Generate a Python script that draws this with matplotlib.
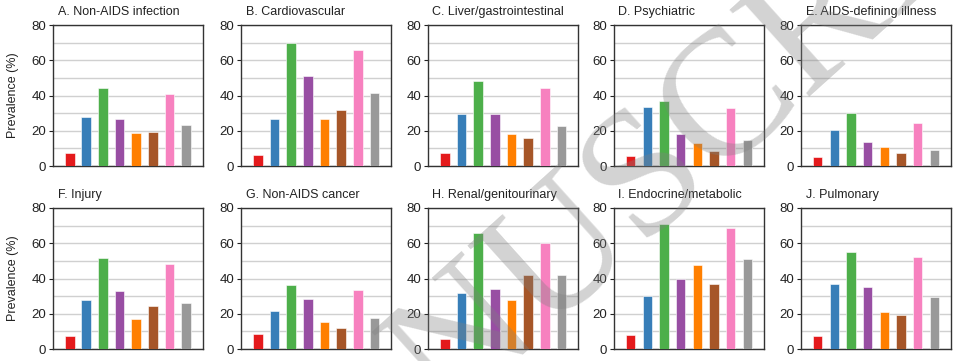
import numpy as np
import matplotlib
matplotlib.use("Agg")
import matplotlib.pyplot as plt

plt.rcParams['font.family'] = ['Liberation Sans', 'DejaVu Sans']

# panel titles
titles = ["A. Non-AIDS infection", "B. Cardiovascular", "C. Liver/gastrointestinal",
          "D. Psychiatric", "E. AIDS-defining illness",
          "F. Injury", "G. Non-AIDS cancer", "H. Renal/genitourinary",
          "I. Endocrine/metabolic", "J. Pulmonary"]

# bar colours (one per group)
colors = ["#e41a1c", "#377eb8", "#4daf4a", "#984ea3",
          "#ff7f00", "#a65628", "#f781bf", "#999999"]

# prevalence (%) per panel, 8 groups each
non_aids_infection = [7.2, 28, 44.4, 26.7, 19, 19.5, 41, 23.5]
cardiovascular = [6.4, 26.4, 70, 51.2, 26.7, 32, 65.6, 41.7]
liver_gi = [7.6, 29.4, 48, 29.4, 18.4, 16.1, 44, 22.6]
psychiatric = [5.5, 33.2, 36.6, 18, 13, 8.5, 32.8, 15]
aids_defining = [4.9, 20.7, 30.3, 13.5, 10.6, 7.6, 24.6, 8.9]
injury = [7.6, 27.9, 51.8, 32.8, 17, 24.6, 48.3, 26.2]
non_aids_cancer = [8.3, 21.6, 36.2, 28.2, 15.4, 11.9, 33.5, 17.6]
renal_gu = [5.5, 31.5, 65.6, 34.3, 27.9, 42, 60.3, 42]
endocrine = [8.2, 29.8, 70.9, 39.8, 47.8, 37, 68.8, 51]
pulmonary = [7.4, 37, 55.2, 35.1, 21, 19.1, 52.1, 29.4]

data = [non_aids_infection, cardiovascular, liver_gi, psychiatric, aids_defining,
        injury, non_aids_cancer, renal_gu, endocrine, pulmonary]

fig = plt.figure(figsize=(9.6, 3.61), dpi=100)

lefts = [53, 241, 428, 614, 801]
bottoms = [166, 349]
W, H = 960.0, 361.0

for i, vals in enumerate(data):
    r, c = divmod(i, 5)
    ax = fig.add_axes([lefts[c] / W, 1 - bottoms[r] / H, 150 / W, 141 / H])
    x = np.arange(len(vals))
    ax.bar(x, vals, width=0.58, color=colors, edgecolor="white", linewidth=0.4, zorder=3)
    ax.set_xlim(-1, 8)
    ax.set_ylim(0, 80)
    ax.set_yticks([0, 20, 40, 60, 80])
    ax.set_yticks([10, 30, 50, 70], minor=True)
    ax.set_xticks([])
    ax.grid(axis="y", which="both", color="#d0d0d0", linewidth=1.0, zorder=0)
    ax.tick_params(axis="y", which="major", length=3, labelsize=9.5, colors="#222222", pad=2)
    ax.tick_params(axis="y", which="minor", length=0)
    for s in ax.spines.values():
        s.set_color("#333333")
        s.set_linewidth(1.0)
    ax.set_title(titles[i], loc="left", fontsize=9, pad=7, color="#222222", x=0.03)
    if c == 0:
        ax.set_ylabel("Prevalence (%)", fontsize=9, color="#222222", labelpad=9)

# watermark
wm = dict(fontsize=130, family="Liberation Serif", color="#808080", alpha=0.35,
          rotation=42, rotation_mode="anchor", va="baseline", zorder=10)
fig.text(0.24, -0.70, "MANUSCRIPT", ha="left", **wm)
fig.text(0.197, -0.737, "ACCEPTED", ha="right", **wm)

fig.savefig("out.png", dpi=100)
